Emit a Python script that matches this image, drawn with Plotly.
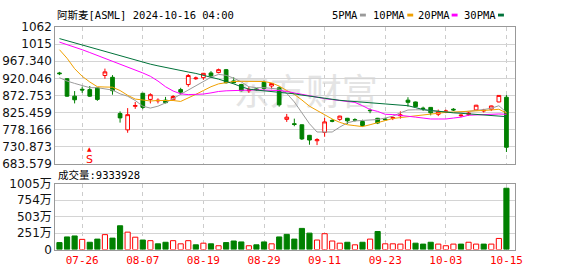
import plotly.graph_objects as go

W, H = 578, 276

dates = ["07-23", "07-24", "07-25", "07-26", "07-29", "07-30", "07-31",
         "08-01", "08-02", "08-05", "08-06", "08-07", "08-08", "08-09", "08-12", "08-13",
         "08-14", "08-15", "08-16", "08-19", "08-20", "08-21", "08-22", "08-23", "08-26",
         "08-27", "08-28", "08-29", "08-30",
         "09-03", "09-04", "09-05", "09-06", "09-09", "09-10", "09-11", "09-12", "09-13",
         "09-16", "09-17", "09-18", "09-19", "09-20", "09-23", "09-24", "09-25", "09-26",
         "09-27", "09-30",
         "10-01", "10-02", "10-03", "10-04", "10-07", "10-08", "10-09", "10-10", "10-11",
         "10-14", "10-15"]

opens = [935, 919, 871, 890, 889, 894, 928, 923, 823, 778,
         843, 879, 862, 858, 860, 861, 889, 903, 919, 922,
         935, 936, 944, 913, 903, 886, 891, 909, 899, 894,
         807, 795, 792, 763, 748, 771, 804, 807, 810, 806,
         801, 832, 810, 808, 810, 817, 860, 855, 838, 840,
         821, 828, 835, 817, 821, 833, 830, 835, 855, 868]
highs = [938, 921, 885, 897, 899, 896, 947, 929, 829, 838,
         855, 880, 879, 865, 869, 874, 894, 932, 925, 935,
         940, 947, 946, 923, 905, 896, 893, 914, 907, 898,
         822, 809, 793, 764, 755, 811, 808, 817, 811, 810,
         806, 837, 811, 811, 815, 829, 868, 856, 842, 841,
         834, 834, 838, 821, 827, 847, 836, 845, 873, 874]
lows = [929, 869, 851, 880, 869, 858, 919, 875, 798, 770,
        836, 835, 851, 851, 851, 859, 876, 897, 916, 916,
        922, 934, 906, 906, 884, 880, 886, 888, 890, 842,
        800, 788, 750, 737, 736, 759, 799, 803, 794, 801,
        787, 824, 794, 803, 805, 809, 842, 840, 830, 818,
        816, 824, 830, 813, 817, 830, 826, 830, 854, 717]
closes = [933, 871, 861, 888, 871, 862, 938, 886, 811, 820,
          845, 840, 875, 859.5, 853, 870, 882, 928, 921, 934,
          927, 944, 908, 908, 886, 888, 889, 892, 906, 847,
          813, 793, 753, 750, 751, 800, 802, 816, 803, 805,
          790, 831, 797, 806, 812, 819, 854, 842, 837, 825,
          829, 830, 833, 818.5, 824, 846, 832, 844, 873, 730]

ma5 = [921.9, 912.7, 906.2, 899.6, 894.4, 894.4, 891.8, 887.8, 877.4, 870.8,
       859.0, 843.3, 838.1, 843.3, 852.5, 864.3, 876.0, 886.5, 899.6, 910.1,
       923.2, 931.1, 928.4, 920.6, 910.1, 897.0, 894.4, 894.4, 893.1, 890.5,
       878.7, 855.1, 825.0, 794.9, 772.1, 771.3, 772.1, 785.7, 797.5, 802.7,
       804.0, 804.0, 806.6, 810.6, 815.8, 825.0, 832.8, 833.4, 833.4, 830.7,
       828.9, 827.6, 826.3, 826.8, 828.9, 830.7, 834.1, 837.5, 844.6, 826.1]
ma10 = [999.1, 975.6, 946.8, 925.8, 910.1, 897.0, 896.2, 895.7, 886.5, 873.4,
        863.0, 859.5, 857.7, 859.0, 859.5, 859.0, 856.4, 865.6, 876.0, 886.5,
        897.0, 904.9, 908.8, 911.4, 911.9, 911.9, 911.9, 911.4, 907.5, 898.8,
        886.5, 876.0, 860.3, 843.3, 831.5, 819.7, 808.0, 798.8, 792.2, 789.6,
        787.0, 792.2, 798.3, 805.3, 809.3, 811.9, 814.5, 815.8, 818.4, 822.4,
        824.5, 826.3, 827.1, 828.1, 828.9, 829.7, 831.5, 832.8, 834.9, 824.5]
ma20 = [1020.1, 1013.5, 1007.0, 999.1, 991.3, 983.4, 975.6, 967.7, 959.9, 952.0,
        944.1, 935.0, 925.8, 912.7, 897.0, 885.2, 877.4, 875.3, 876.0, 876.8,
        880.0, 883.9, 885.7, 886.5, 887.3, 888.4, 888.4, 887.8, 887.8, 886.5,
        883.9, 880.0, 874.7, 870.8, 866.9, 864.3, 861.6, 859.0, 856.4, 853.8,
        844.6, 834.1, 828.9, 821.0, 820.3, 818.4, 815.8, 813.2, 810.6, 808.0,
        808.0, 808.0, 810.6, 813.2, 818.4, 819.7, 821.0, 821.8, 821.8, 821.0]
ma30 = [1029.8, 1023.8, 1017.7, 1011.7, 1005.7, 999.7, 993.6, 987.6, 981.6, 975.6,
        969.5, 963.8, 959.3, 954.6, 949.9, 945.5, 941.5, 937.6, 933.7, 929.2,
        923.2, 918.0, 911.9, 904.9, 897.0, 890.5, 887.8, 885.7, 883.9, 882.6,
        880.0, 877.4, 874.0, 870.8, 868.2, 865.1, 862.2, 859.5, 857.7, 855.9,
        853.8, 852.5, 851.2, 849.1, 847.2, 846.5, 844.6, 839.4, 834.1, 831.5,
        828.9, 826.3, 825.0, 823.7, 822.4, 821.0, 820.3, 818.4, 817.1, 814.5]

volumes = [1060000, 1920000, 2070000, 1550000, 1110000, 1590000, 2270000, 1740000, 3620000, 2650000,
           1880000, 1450000, 1350000, 870000, 1110000, 1350000, 870000, 1350000, 720000, 970000,
           870000, 580000, 1060000, 1300000, 1160000, 580000, 720000, 1160000, 870000, 1920000,
           2310000, 1590000, 3220000, 2500000, 1450000, 2410000, 1300000, 970000, 1110000, 720000,
           1110000, 1590000, 2750000, 870000, 870000, 830000, 1450000, 970000, 830000, 1110000,
           830000, 580000, 830000, 830000, 1110000, 830000, 830000, 830000, 1690000, 9333928]
vol_up = [0, 0, 0, 1, 0, 0, 1, 0, 0, 1,
          1, 0, 1, 0, 0, 1, 1, 1, 0, 1,
          0, 1, 0, 0, 0, 1, 0, 0, 1, 0,
          0, 0, 0, 0, 1, 1, 1, 1, 0, 1,
          0, 1, 0, 1, 1, 1, 1, 0, 0, 0,
          1, 1, 1, 0, 1, 1, 0, 1, 1, 0]

tick_dates = ["07-26", "08-07", "08-19", "08-29", "09-11", "09-23", "10-03", "10-15"]
y_tick_vals = [683.579, 730.873, 778.166, 825.459, 872.753, 920.046, 967.340, 1014.633, 1061.926]
y_tick_text = ["683.579", "730.873", "778.166", "825.459", "872.753", "920.046", "967.340", "1015", "1062"]
v_tick_vals = [0, 251.25, 502.5, 753.75, 1005]
v_tick_text = ["0", "251万", "503万", "754万", "1005万"]

ma_names = ["5PMA", "10PMA", "20PMA", "30PMA"]
ma_colors = ["#9a9a9a", "#f0a000", "#ff00ff", "#00723a"]

RED = "#ff0000"
GREEN = "#008000"

idx = list(range(len(dates)))
tick_idx = [dates.index(d) for d in tick_dates]
vol_wan = [v / 1e4 for v in volumes]

def px(x):
    return x / W

def py(y):
    return 1 - y / H

fig = go.Figure()

for vals, col in zip([ma5, ma10, ma20, ma30], ma_colors):
    fig.add_trace(go.Scatter(x=idx, y=vals, mode="lines", line=dict(color=col, width=1),
                             xaxis="x", yaxis="y", hoverinfo="skip"))

fig.add_trace(go.Candlestick(
    x=idx, open=opens, high=highs, low=lows, close=closes,
    increasing=dict(line=dict(color=RED, width=1), fillcolor="#ffffff"),
    decreasing=dict(line=dict(color=GREEN, width=1), fillcolor=GREEN),
    whiskerwidth=0, xaxis="x", yaxis="y", hoverinfo="skip"))

fig.add_trace(go.Bar(
    x=idx, y=vol_wan,
    marker=dict(color=["#ffffff" if u else GREEN for u in vol_up],
                line=dict(color=[RED if u else GREEN for u in vol_up], width=1)),
    width=0.68, xaxis="x2", yaxis="y2", hoverinfo="skip"))

grid_dash = "4px,4px"
common_x = dict(range=[-0.56, 60.1], tickvals=tick_idx, ticktext=tick_dates,
                showgrid=True, gridcolor="#cccccc", griddash=grid_dash, gridwidth=1,
                showline=True, linecolor="#999999", linewidth=1, mirror=True,
                zeroline=False, ticks="", fixedrange=True,
                domain=[px(56), px(522)])

fig.update_layout(
    width=W, height=H, margin=dict(l=0, r=0, t=0, b=0),
    paper_bgcolor="#ffffff", plot_bgcolor="#ffffff",
    showlegend=False, hovermode=False, bargap=0.3,
    xaxis=dict(**common_x, anchor="y", showticklabels=False, rangeslider=dict(visible=False)),
    yaxis=dict(domain=[py(165.5), py(21)], range=[y_tick_vals[0], y_tick_vals[-1]],
               tickvals=y_tick_vals, ticktext=y_tick_text,
               showgrid=True, gridcolor="#d4d4d4", gridwidth=1,
               showline=True, linecolor="#999999", linewidth=1, mirror=True,
               zeroline=False, ticks="", anchor="x",
               tickfont=dict(family="DejaVu Sans", size=12, color="#111111")),
    xaxis2=dict(**common_x, anchor="y2", showticklabels=True,
                tickfont=dict(family="DejaVu Sans Mono", size=11, color=RED)),
    yaxis2=dict(domain=[py(255.5), py(186)], range=[0, 1005],
                tickvals=v_tick_vals, ticktext=v_tick_text,
                showgrid=True, gridcolor="#d4d4d4", gridwidth=1,
                showline=True, linecolor="#999999", linewidth=1, mirror=True,
                zeroline=False, ticks="", anchor="x2",
                tickfont=dict(family="DejaVu Sans, Noto Sans CJK SC", size=12, color="#111111")),
)

mono = "DejaVu Sans Mono, Noto Sans CJK SC"
ann = []
ann.append(dict(x=px(56), y=py(8), xref="paper", yref="paper", xanchor="left", yanchor="middle",
                text="阿斯麦[ASML] 2024-10-16 04:00", showarrow=False,
                font=dict(family=mono, size=10.5, color="#000000")))
ann.append(dict(x=px(57), y=py(177), xref="paper", yref="paper", xanchor="left", yanchor="middle",
                text="成交量:" + str(volumes[-1]), showarrow=False,
                font=dict(family=mono, size=10.5, color="#000000")))
rect_x = [365, 413, 458, 505]
shapes = []
for name, col, rx in zip(ma_names, ma_colors, rect_x):
    ann.append(dict(x=px(rx - 1), y=py(8), xref="paper", yref="paper", xanchor="right", yanchor="middle",
                    text=name, showarrow=False, borderpad=0,
                    font=dict(family=mono, size=10.5, color="#000000")))
    shapes.append(dict(type="rect", xref="paper", yref="paper", x0=px(rx), x1=px(rx + 6),
                       y0=py(10), y1=py(7), fillcolor=col, line=dict(width=0)))

# sell signal marker
ann.append(dict(x=4, y=695.3, xref="x", yref="y", xanchor="center", yanchor="middle",
                text="S", showarrow=False, borderpad=0,
                font=dict(family="DejaVu Sans", size=11, color=RED)))
ann.append(dict(x=4, y=714, xref="x", yref="y", xanchor="center", yanchor="bottom",
                text="▲", showarrow=False, borderpad=0,
                font=dict(family="DejaVu Sans", size=6, color=RED)))

# watermark
shapes.append(dict(type="rect", xref="paper", yref="paper", x0=px(220), x1=px(400),
                   y0=py(112), y1=py(74), line=dict(width=0), fillcolor="rgba(0,0,0,0)",
                   layer="below",
                   label=dict(text="东方财富", font=dict(family="Noto Sans CJK SC", size=36,
                                                      color="#e4e4e4"))))

fig.update_layout(annotations=ann, shapes=shapes)

fig.write_html("out.html")
